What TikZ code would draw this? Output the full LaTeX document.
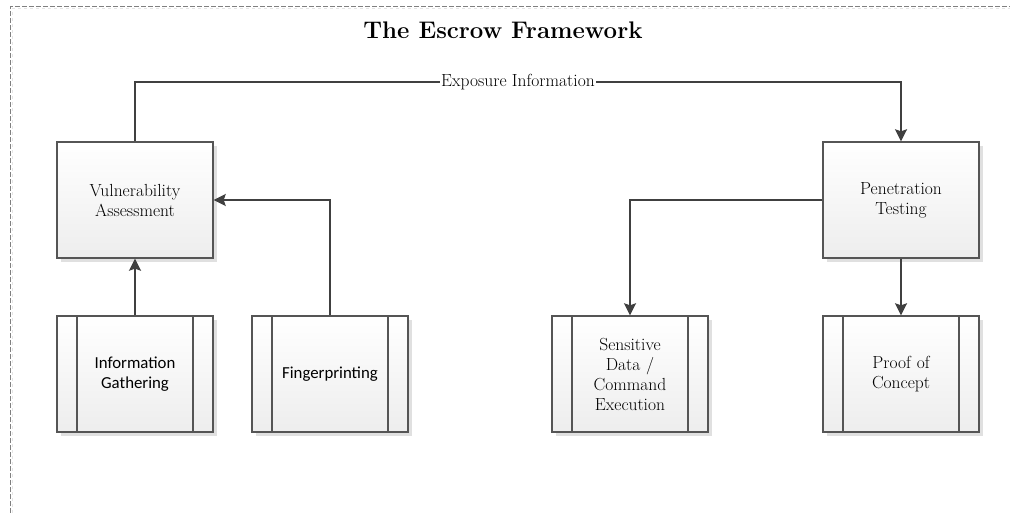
\documentclass[tikz,border=0pt]{standalone}
\usepackage{fontspec}
\newfontfamily\calibri{Carlito}
\usetikzlibrary{arrows.meta,shadows,calc}
\definecolor{linec}{HTML}{404040}
\definecolor{boxc}{HTML}{555555}
\tikzset{
  box/.style={draw=boxc, line width=1.4pt, minimum width=156pt, minimum height=116pt,
    top color=white, bottom color=black!7, align=center, inner sep=2pt,
    drop shadow={shadow xshift=4pt, shadow yshift=-4pt, fill=black!12, opacity=1},
    font=\fontsize{17.5}{20}\selectfont},
  procbox/.style={box, font=\calibri\fontsize{16.8}{20}\selectfont, text width=112pt,
    path picture={
      \draw[boxc, line width=1.6pt] ([xshift=20pt]path picture bounding box.north west) -- ([xshift=20pt]path picture bounding box.south west);
      \draw[boxc, line width=1.6pt] ([xshift=-20pt]path picture bounding box.north east) -- ([xshift=-20pt]path picture bounding box.south east);
    }},
  procserif/.style={procbox, font=\fontsize{17.5}{20}\selectfont},
  conn/.style={draw=linec, line width=2pt},
  arr/.style={conn, -{Stealth[length=12pt,width=12pt,inset=2pt]}},
}
\begin{document}
\begin{tikzpicture}[x=1pt,y=-1pt]
\useasboundingbox (0,0) rectangle (1010,513);
\draw[black!10, line width=0.8pt, dashed] (12.5,513) -- (12.5,8.5) -- (1010,8.5);
\draw[black!50, line width=0.9pt, dash pattern=on 5pt off 2pt] (10.5,513) -- (10.5,6.5) -- (1010,6.5);
\node[font=\bfseries\fontsize{24}{26}\selectfont] (title) at (503,30) {The Escrow Framework};

\node[box] (va) at (135,200) {Vulnerability\\Assessment};
\node[box] (pt) at (901,200) {Penetration\\Testing};
\node[procbox] (ig) at (135,374) {Information\\Gathering};
\node[procbox] (fp) at (330,374) {Fingerprinting};
\node[procserif] (sd) at (630,374) {Sensitive\\Data /\\Command\\Execution};
\node[procserif] (pc) at (901,374) {Proof of\\Concept};

\coordinate (c1) at (135,82);
\coordinate (c2) at (901,82);
\draw[arr] (va.north) -- (c1) -- node[fill=white, inner sep=1pt, font=\fontsize{17.5}{19}\selectfont] (lbl) {Exposure Information} (c2) -- (pt.north);
\draw[arr] (ig.north) -- (va.south);
\draw[arr] (fp.north) |- (va.east);
\draw[arr] (pt.west) -| (sd.north);
\draw[arr] (pt.south) -- (pc.north);
\end{tikzpicture}
\end{document}
